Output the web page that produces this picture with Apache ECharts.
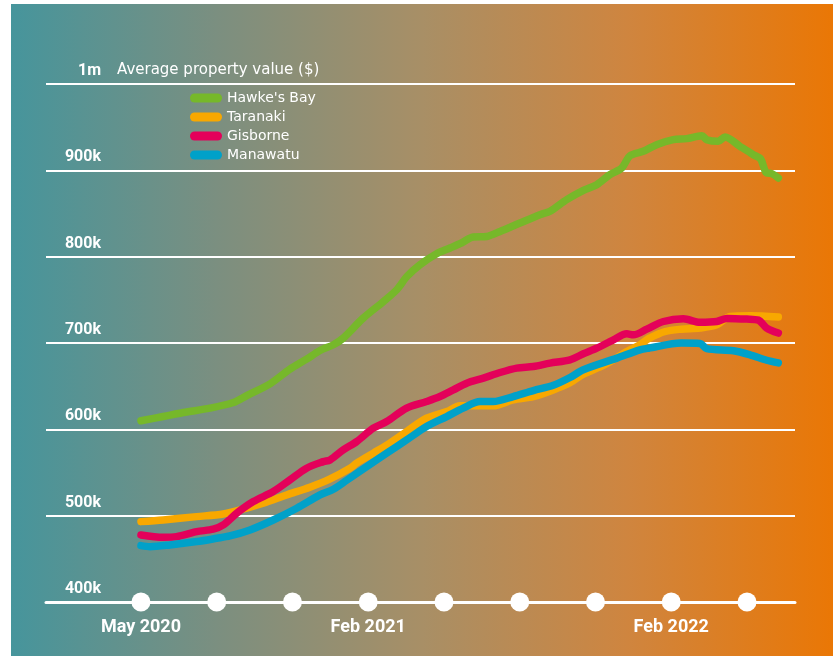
<!DOCTYPE html>
<html><head><meta charset="utf-8">
<script src="https://cdn.jsdelivr.net/npm/echarts@6/dist/echarts.min.js"></script>
<style>html,body{margin:0;padding:0;background:#fff}#c{width:833px;height:656px}</style>
</head><body><div id="c"></div>
<script>
// x = months since May 2020, y = average property value in $k
const seriesNames = ["Hawke's Bay", "Taranaki", "Gisborne", "Manawatu"];
const seriesColors = ['#76b82a', '#f8a800', '#e4005a', '#00a1c9'];
const hawkesBay = [[0,610],[0.88,614.8],[1.68,619.5],[2.73,624.5],[3.66,631],[4.19,639],[5.11,652.7],[5.9,669.7],[6.56,681.3],[7.09,691.3],[7.62,698],[8.01,705.7],[8.8,728.8],[9.6,748],[10.13,761.7],[10.53,777],[11.05,790.6],[11.71,803.4],[12.24,810],[12.63,815],[13.16,822.7],[13.69,823.4],[14.22,829.2],[15.01,839],[15.8,848.6],[16.2,852.5],[16.86,866],[17.52,876.8],[18.05,883.4],[18.57,895],[19.04,902.7],[19.37,917],[19.89,922],[20.42,929.7],[21.08,935.5],[21.61,936.7],[22.21,940.2],[22.4,935.5],[22.86,933.6],[23.13,938.7],[23.72,927.8],[24.25,918.1],[24.54,913.1],[24.75,897.6],[24.98,896.1],[25.24,891.1]];
const taranaki = [[0,493.1],[0.88,495],[2.21,498.9],[3.26,502],[3.92,506.6],[4.84,514.4],[5.77,524],[6.69,533],[7.49,542.6],[8.28,555],[8.54,560.8],[9.2,572.4],[9.86,584],[10.52,597.5],[11.31,612.9],[12.11,620.6],[12.63,627.2],[13.16,627.2],[13.95,627.2],[14.74,634.2],[15.54,638],[16.33,645.7],[16.99,654],[17.52,664],[18.31,674],[18.85,683],[19.24,690],[19.76,698],[20.1,705],[20.76,713.3],[21.4,716],[22.14,717.3],[22.8,721],[23.33,730.7],[24.12,731.5],[25.24,730]];
const gisborne = [[0,477.7],[0.88,475],[1.41,475.7],[2.21,481.5],[2.86,484.3],[3.26,489.3],[3.79,502.8],[4.45,516.3],[5.24,527.9],[5.9,541.4],[6.56,555],[7.22,562.6],[7.49,564.6],[8.01,576.2],[8.54,585.8],[9.2,601.3],[9.73,609],[10.52,624.5],[11.31,632.2],[11.84,638],[12.37,645.7],[12.9,653.5],[13.56,659.3],[14.22,665.8],[14.88,670.9],[15.54,672.8],[16.2,676.7],[16.99,680.5],[17.52,687.5],[18.05,694],[18.71,703.7],[19.24,710.6],[19.5,709.5],[20.03,716.1],[20.69,724.9],[21.48,728],[22.14,724],[22.8,724.9],[23.2,728.5],[23.99,727.7],[24.45,726.5],[24.78,717.3],[25.24,711.5]];
const manawatu = [[0,465.3],[0.36,464.1],[1.15,466.1],[2.21,470],[3.0,473.8],[3.52,476.5],[4.32,483.5],[5.24,495],[6.17,508.6],[7.09,524],[7.62,530.6],[8.15,541],[8.94,556.8],[9.73,572.4],[10.52,587.8],[11.31,603.3],[12.11,614.8],[12.76,624.5],[13.43,632.2],[13.95,632.2],[14.74,638],[15.54,644.9],[16.33,651],[16.99,660],[17.52,669],[18.85,682.5],[19.76,692],[20.1,694],[21.4,700],[22.14,699.5],[22.4,693.5],[23.46,691],[24.12,686.3],[24.78,680],[25.24,677]];
const dotMonths = [0, 3, 6, 9, 12, 15, 18, 21, 24];
const dotLabels = ['May 2020', '', '', 'Feb 2021', '', '', '', 'Feb 2022', ''];
const yTicks = [400, 500, 600, 700, 800, 900, 1000];
const yTickLabels = ['400k', '500k', '600k', '700k', '800k', '900k', '1m'];
const yTitle = 'Average property value ($)';

const chart = echarts.init(document.getElementById('c'), null, {renderer: 'canvas'});
const allData = [hawkesBay, taranaki, gisborne, manawatu];
const lineSeries = seriesNames.map((n, i) => ({
  name: n, type: 'line', data: allData[i], smooth: 0.3, symbol: 'none', z: 3,
  lineStyle: {width: 7.5, color: seriesColors[i], cap: 'round', join: 'round'},
  itemStyle: {color: seriesColors[i]}
}));
const dotSeries = {
  type: 'scatter', z: 5, clip: false, symbol: 'circle', symbolSize: 19,
  itemStyle: {color: '#ffffff', opacity: 1},
  data: dotMonths.map((m, i) => ({value: [m, 400], label: {formatter: dotLabels[i]}})),
  label: {show: true, position: 'bottom', distance: 7, color: '#fff', fontFamily: 'Roboto', fontWeight: 'bold', fontSize: 18},
  silent: true
};
chart.setOption({
  animation: false,
  graphic: [
    {type: 'rect', z: -10, shape: {x: 11, y: 4, width: 822, height: 652},
     style: {fill: new echarts.graphic.LinearGradient(0, 0, 1, 0, [
       {offset: 0, color: '#46959c'}, {offset: 0.25, color: '#7b8f80'}, {offset: 0.5, color: '#a88f66'},
       {offset: 0.75, color: '#cf853f'}, {offset: 1, color: '#ea7705'}])}},
    {type: 'text', left: 117, top: 63, z: 10, style: {text: yTitle, fill: '#fff', font: '15px "DejaVu Sans"'}}
  ],
  grid: {left: 46, right: 38, top: 84, bottom: 54},
  legend: {
    orient: 'vertical', left: 185, top: 85, itemWidth: 32, itemHeight: 9, itemGap: 3,
    icon: 'path://M4.5,0 H27.5 A4.5,4.5 0 0 1 27.5,9 H4.5 A4.5,4.5 0 0 1 4.5,0 Z',
    textStyle: {color: '#fff', fontFamily: 'DejaVu Sans', fontSize: 14, lineHeight: 16},
    data: seriesNames
  },
  xAxis: {
    type: 'value', min: -3.76, max: 25.9,
    axisLine: {show: true, lineStyle: {color: '#fff', width: 3}},
    axisTick: {show: false}, axisLabel: {show: false}, splitLine: {show: false}
  },
  yAxis: {
    type: 'value', min: 400, max: 1000, interval: 100,
    axisLine: {show: false}, axisTick: {show: false},
    splitLine: {show: true, lineStyle: {color: '#ffffff', width: 2}},
    axisLabel: {
      inside: true, margin: 55, align: 'right', verticalAlign: 'bottom', padding: [0, 0, 5, 0],
      color: '#fff', fontFamily: 'Roboto', fontWeight: 'bold', fontSize: 16,
      formatter: v => { const i = yTicks.indexOf(v); return i >= 0 ? yTickLabels[i] : ''; }
    }
  },
  series: [...lineSeries, dotSeries]
});
</script></body></html>
